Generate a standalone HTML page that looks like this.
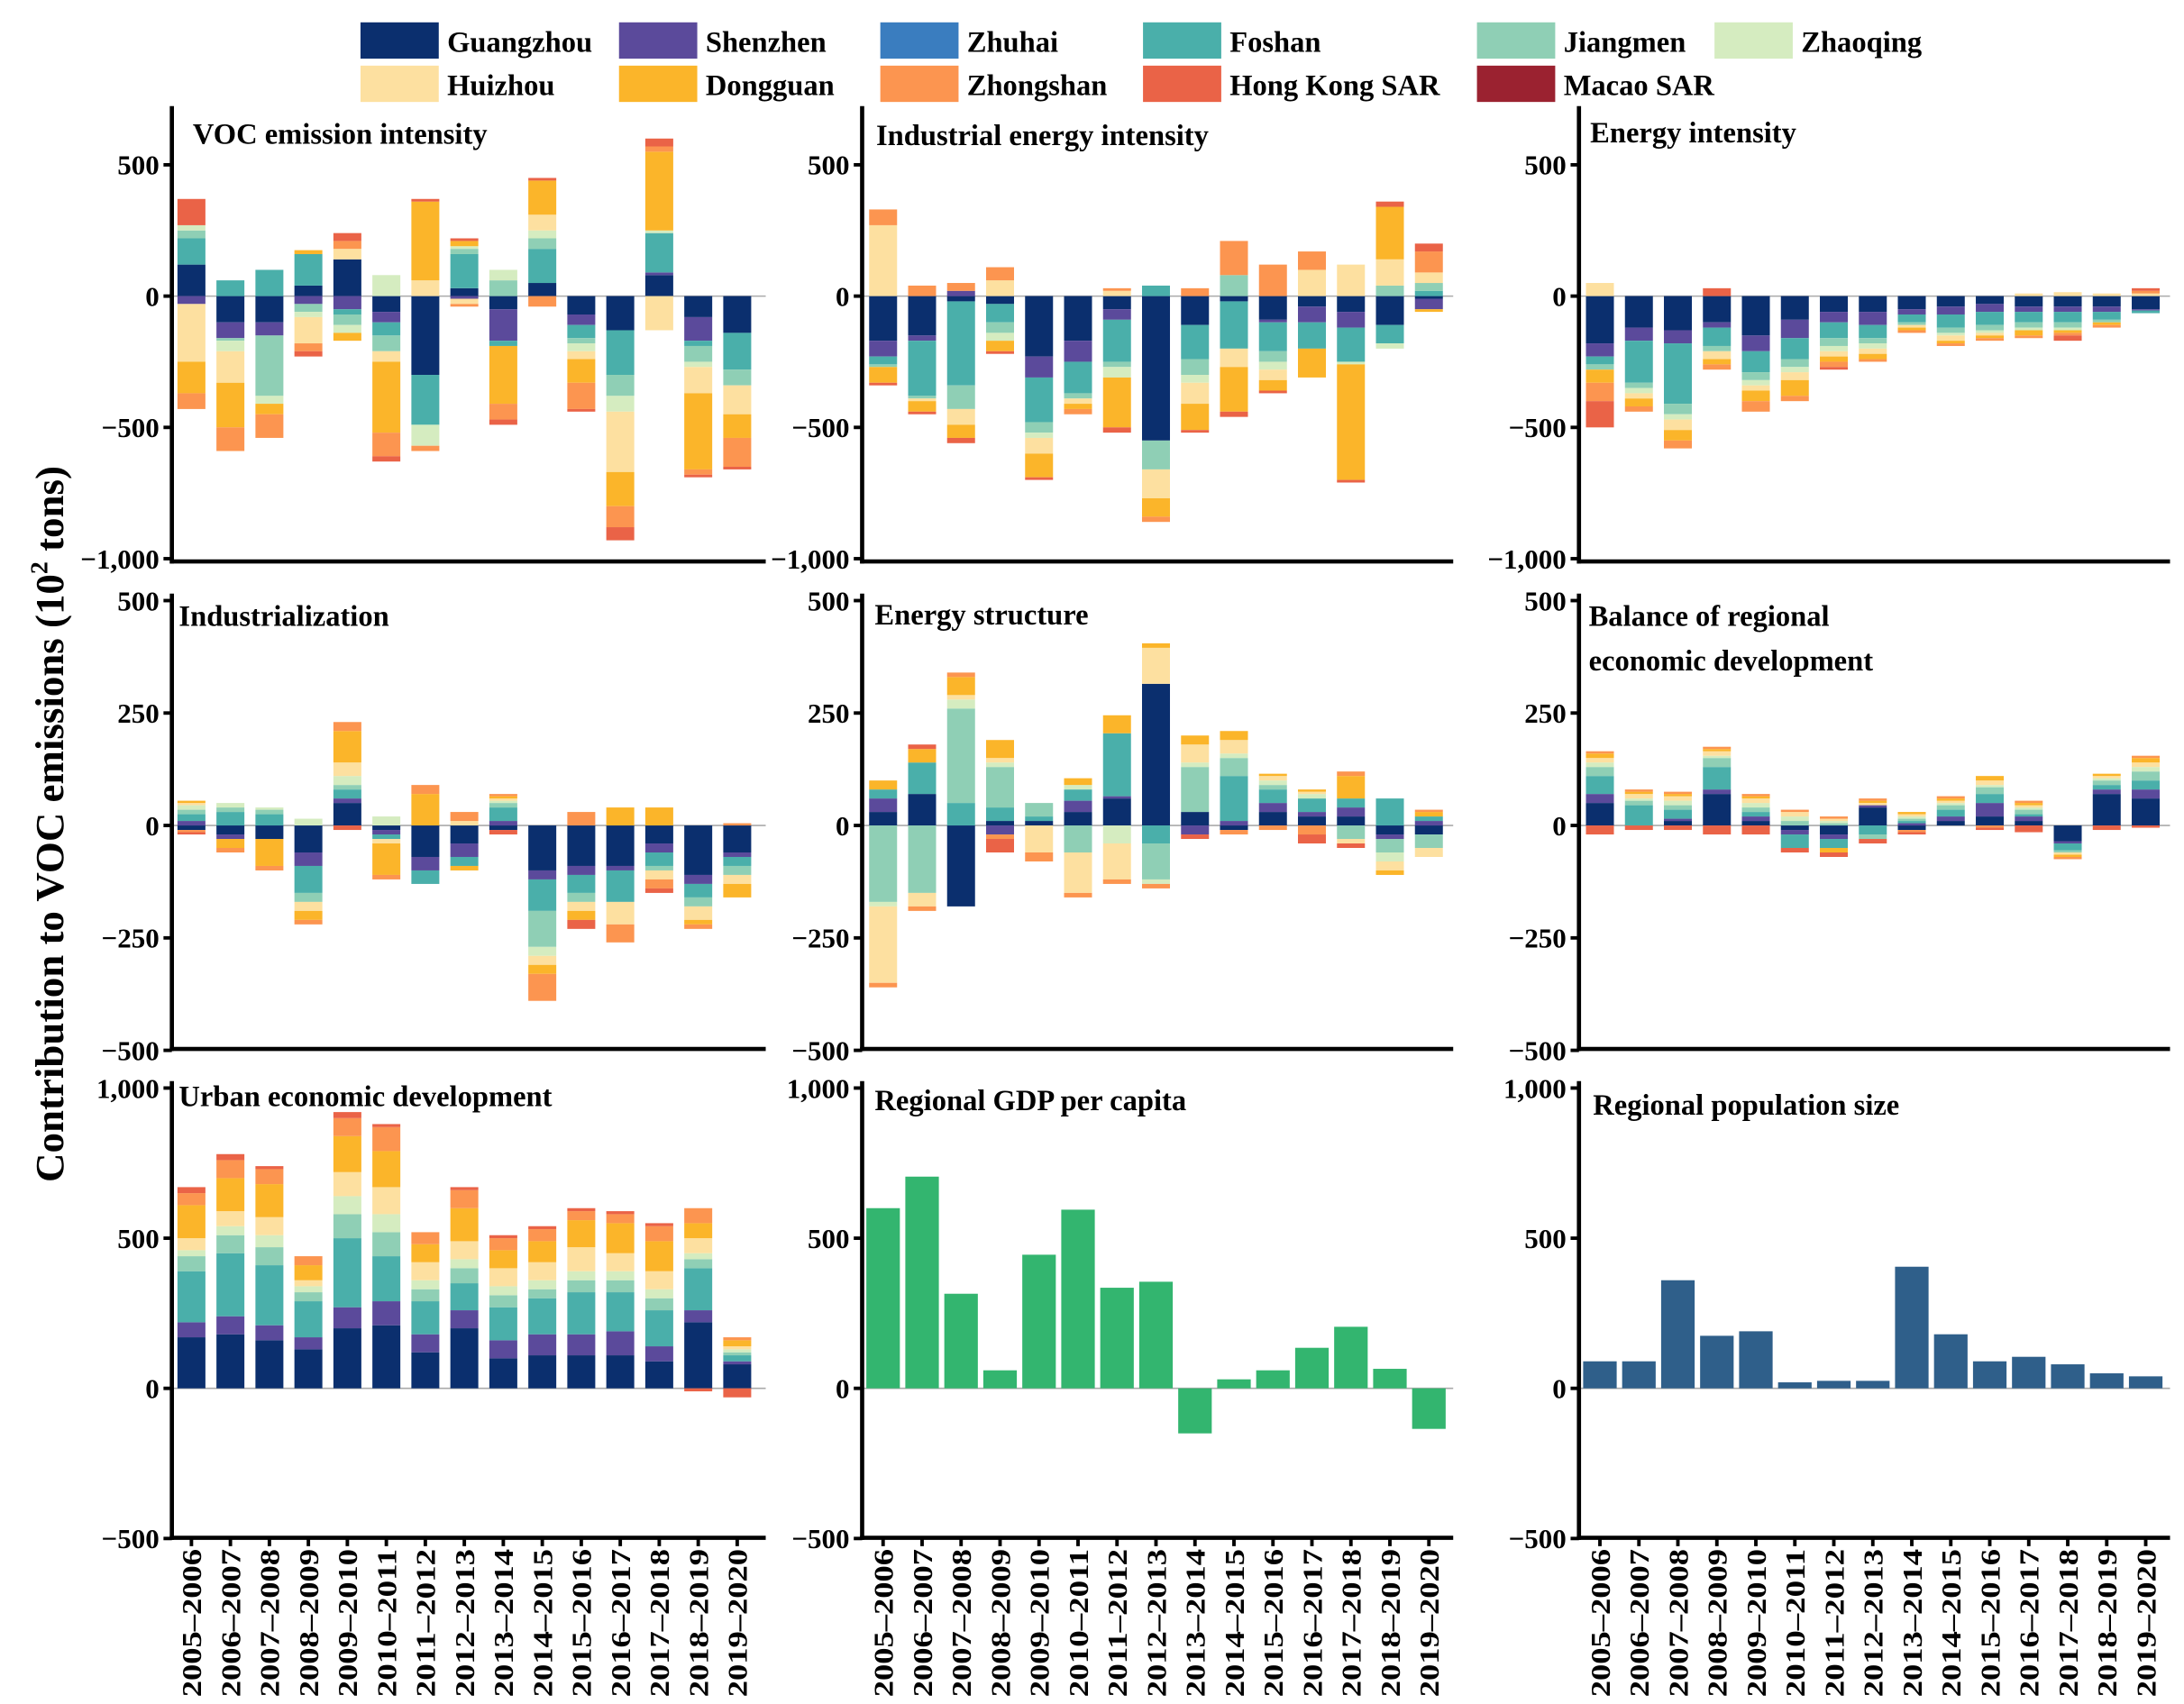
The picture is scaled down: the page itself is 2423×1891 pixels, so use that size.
<!DOCTYPE html>
<html><head><meta charset="utf-8"><style>
html,body{margin:0;padding:0;background:#fff;}
svg{display:block;font-family:"Liberation Serif",serif;font-weight:bold;}
</style></head><body>
<svg id="chart" width="2423" height="1891" viewBox="0 0 1563 1220" preserveAspectRatio="none" xmlns="http://www.w3.org/2000/svg">
<text transform="translate(45,590) rotate(-90)" text-anchor="middle" font-size="29">Contribution to VOC emissions (10<tspan font-size="18" dy="-11">2</tspan><tspan dy="11"> tons)</tspan></text>
</svg>
<script>
const periods=["2005–2006","2006–2007","2007–2008","2008–2009","2009–2010","2010–2011","2011–2012","2012–2013","2013–2014","2014–2015","2015–2016","2016–2017","2017–2018","2018–2019","2019–2020"];
const regions=["Guangzhou","Shenzhen","Zhuhai","Foshan","Jiangmen","Zhaoqing","Huizhou","Dongguan","Zhongshan","Hong Kong SAR","Macao SAR"];
const regionColors=["#0b2f6e","#5b4a9b","#3a7dbf","#4aafaa","#8fcfb5","#d5ecc0","#fde0a0","#fbb52a","#fc9550","#ea6347","#9b2230"];
// region order per bar: GZ,SZ,ZH,FS,JM,ZQ,HZ,DG,ZS,HK,MO
const vocIntensity=[
[120,-30,0,100,30,20,-220,-120,-60,100,0],[-100,-60,0,60,-10,-40,-120,-170,-90,0,0],[-100,-50,0,100,-230,-30,0,-40,-90,0,0],[40,-30,0,120,-30,-20,-100,15,-30,-20,0],[140,-50,0,-20,-40,-30,40,-30,30,30,0],
[-60,-40,0,-50,-60,80,-40,-270,-90,-20,0],[-300,0,0,-190,0,-80,60,300,-20,10,0],[30,-10,0,130,20,10,-20,20,-10,10,0],[-50,-120,0,-20,60,40,0,-220,-60,-20,0],[50,0,0,130,40,30,60,130,-40,10,0],
[-70,-40,0,-50,-20,-30,-30,-90,-100,-10,0],[-130,0,0,-170,-80,-60,-230,-130,-80,-50,0],[80,10,0,150,0,10,-130,300,20,30,0],[-80,-90,0,-20,-60,-20,-100,-290,-20,-10,0],[-140,0,0,-140,-60,0,-110,-90,-110,-10,0]];
const industrialEnergy=[
[-170,-60,0,-30,-10,0,270,-60,60,-10,0],[-150,-20,0,-210,-10,0,-10,-40,40,-10,0],[-20,20,0,-320,-90,0,-60,-50,30,-20,0],[-30,0,0,-70,-40,-30,60,-40,50,-10,0],[-230,-80,0,-170,-40,-20,-60,-90,0,-10,0],
[-170,-80,0,-120,-20,0,-20,-20,-20,0,0],[-50,-40,0,-160,-20,-40,20,-190,10,-20,0],[-550,0,0,40,-110,0,-110,-70,-20,0,0],[-110,0,0,-130,-60,-30,-80,-100,30,-10,0],[-20,0,0,-180,80,0,-70,-170,130,-20,0],
[-90,-10,0,-110,-40,-30,-40,-40,120,-10,0],[-40,-60,0,-100,0,0,100,-110,70,0,0],[-60,-60,0,-130,0,-10,120,-440,0,-10,0],[-110,0,0,-70,40,-20,100,200,0,20,0],[-10,-40,0,20,30,0,40,-10,80,30,0]];
const energyIntensity=[
[-180,-50,0,-30,-20,0,50,-50,-70,-100,0],[-120,-50,0,-160,-20,-20,-20,-30,-20,0,0],[-130,-50,0,-230,-40,-20,-40,-40,-30,0,0],[-100,-20,0,-70,-20,0,-30,-20,-20,30,0],[-150,-60,0,-80,-30,-20,-20,-40,-40,0,0],
[-90,-70,0,-80,-30,-20,-30,-60,-20,0,0],[-60,-40,0,-60,-30,-20,-20,-20,-20,-10,0],[-60,-50,0,-50,-20,-20,-20,-20,-10,0,0],[-50,-20,0,-30,-10,0,-10,-10,-10,0,0],[-40,-30,0,-50,-20,-10,-20,-10,-10,0,0],
[-30,-30,0,-50,-20,-10,-10,-10,-10,0,0],[-40,-20,0,-40,-20,-10,10,-20,-10,0,0],[-40,-20,0,-40,-20,-10,15,-10,-10,-20,0],[-40,-20,0,-30,-10,0,10,-10,-10,0,0],[-50,-5,0,-10,0,0,10,0,10,10,0]];
const industrialization=[
[-10,10,0,15,10,10,5,5,-5,-5,0],[-20,-10,0,30,10,10,0,-20,-10,0,0],[-30,0,0,25,10,5,0,-60,-10,0,0],[-60,-30,0,-60,-20,15,-20,-20,-10,0,0],[50,10,0,20,10,20,30,70,20,-10,0],
[-10,-10,0,-10,0,20,-10,-70,-10,0,0],[-70,-30,0,-30,0,0,0,70,20,0,0],[-40,-30,0,-20,0,0,10,-10,20,0,0],[-10,10,0,30,10,5,5,5,5,-10,0],[-100,-20,0,-70,-80,-20,-20,-20,-60,0,0],
[-90,-20,0,-40,-20,0,-20,-20,30,-20,0],[-90,-10,0,-70,0,0,-50,40,-40,0,0],[-40,-20,0,-30,-10,0,-20,40,-20,-10,0],[-110,-20,0,-30,-20,0,-30,-10,-10,0,0],[-60,-10,0,-20,-20,0,-20,-30,5,0,0]];
const energyStructure=[
[30,30,0,20,-170,-10,-170,20,-10,0,0],[70,0,0,70,-150,0,-30,30,-10,10,0],[-180,0,0,50,210,20,10,40,10,0,0],[10,-20,0,30,90,10,10,40,-10,-30,0],[10,0,0,10,30,0,-60,0,-20,0,0],
[30,25,0,25,-60,10,-90,15,-10,0,0],[60,5,0,140,0,-40,-80,40,-10,0,0],[315,0,0,-40,-80,-10,80,10,-10,0,0],[30,-20,0,0,100,10,40,20,0,-10,0],[-10,10,0,100,40,10,30,20,-10,0,0],
[30,20,0,30,10,10,10,5,-10,0,0],[20,10,0,30,0,10,5,5,-20,-20,0],[20,20,0,20,-30,0,-10,50,10,-10,0],[-20,-10,0,60,-30,-20,-20,-10,0,0,0],[-20,10,0,10,-30,0,-20,10,5,0,0]];
const regionalBalance=[
[50,20,0,40,20,10,10,10,5,-20,0],[0,0,0,45,10,5,10,5,5,-10,0],[10,5,0,20,10,10,10,5,5,-10,0],[70,10,0,50,20,5,10,5,5,-20,0],[10,10,0,10,10,10,10,5,5,-20,0],
[-10,-10,0,-30,10,10,10,0,5,-10,0],[-20,-10,0,-20,5,5,5,-10,5,-10,0],[40,5,0,-20,-10,0,5,5,5,-10,0],[-10,5,0,5,5,5,5,5,-5,-5,0],[10,10,0,15,10,5,5,5,5,0,0],
[20,30,0,20,15,5,10,10,-5,-5,0],[10,10,0,5,10,5,5,5,5,-15,0],[-35,-5,0,-15,-5,0,-5,-5,-5,0,0],[70,10,0,10,10,5,5,5,0,-10,0],[60,20,0,20,20,10,10,10,5,-5,0]];
const urbanEconomic=[
[170,50,0,170,50,20,40,110,40,20,0],[180,60,0,210,60,30,50,110,60,20,0],[160,50,0,200,60,40,60,110,50,10,0],[130,40,0,120,30,20,20,50,30,0,0],[200,70,0,230,80,60,80,120,60,20,0],
[210,80,0,150,80,60,90,120,80,10,0],[120,60,0,110,40,30,60,60,40,0,0],[200,60,0,90,50,30,60,110,60,10,0],[100,60,0,110,40,30,60,60,40,10,0],[110,70,0,120,30,30,60,70,40,10,0],
[110,70,0,140,40,30,80,90,30,10,0],[110,80,0,130,40,30,60,100,30,10,0],[90,50,0,120,40,30,60,100,50,10,0],[220,40,0,140,30,20,50,50,50,-10,0],[80,10,0,20,10,10,10,20,10,-30,0]];
const gdpPerCapita=[600,705,315,60,445,595,335,355,-150,30,60,135,205,65,-135];
const populationSize=[90,90,360,175,190,20,25,25,405,180,90,105,80,50,40];
const ticksRow1=[500,0,-500,-1000], labelsRow1=["500","0","−500","−1,000"];
const ticksRow2=[500,250,0,-250,-500], labelsRow2=["500","250","0","−250","−500"];
const ticksRow3=[1000,500,0,-500], labelsRow3=["1,000","500","0","−500"];

const NS="http://www.w3.org/2000/svg";
const svg=document.getElementById('chart');
function mk(tag,attrs,parent){const e=document.createElementNS(NS,tag);for(const k in attrs)e.setAttribute(k,attrs[k]);(parent||svg).appendChild(e);return e;}

const legX=[258,443,630,818,1057,1227];
regions.forEach((r,i)=>{
  const row=i<6?0:1, col=i<6?i:i-6;
  const x=legX[col], y=row===0?16:47;
  const g=mk('g',{});
  
  
  mk('rect',{x:x,y:y,width:56,height:26,fill:regionColors[i]},g);
  const t=mk('text',{x:x+62,y:y+21,'font-size':21},g);t.textContent=r;
});

const rows=[{zeroY:212,scale:94/500,top:76,bottom:402,ticks:ticksRow1,labels:labelsRow1},
            {zeroY:591,scale:80.5/250,top:425,bottom:751,ticks:ticksRow2,labels:labelsRow2},
            {zeroY:994,scale:107.5/500,top:774,bottom:1101,ticks:ticksRow3,labels:labelsRow3}];
const cols=[{ax:123,first:137,right:548},{ax:617,first:632,right:1040},{ax:1130,first:1145,right:1553}];
const step=27.9, bw=20;

function panel(name,title,rowI,colI,stackData,simpleData,simpleColor){
  const R=rows[rowI],C=cols[colI];
  const g=mk('g',{});
  
  
  const yS=v=>R.zeroY-v*R.scale;
  const xS=i=>C.first+i*step;
  mk('line',{x1:C.ax,x2:C.right,y1:R.zeroY,y2:R.zeroY,stroke:'#aaa','stroke-width':1},g);
  periods.forEach((p,i)=>{
    if(stackData){
      let pos=0,neg=0;
      stackData[i].forEach((v,k)=>{
        if(!v)return;
        let y0,y1;
        if(v>0){y0=pos;pos+=v;y1=pos;}else{y0=neg;neg+=v;y1=neg;}
        const r=mk('rect',{x:xS(i)-bw/2,y:Math.min(yS(y0),yS(y1)),width:bw,height:Math.abs(yS(y1)-yS(y0)),fill:regionColors[k]},g);
        
        
      });
    }else{
      const v=simpleData[i];
      const r=mk('rect',{x:xS(i)-12,y:Math.min(yS(0),yS(v)),width:24,height:Math.abs(yS(v)-yS(0)),fill:simpleColor},g);
      
      
    }
  });
  mk('line',{x1:C.ax,x2:C.ax,y1:R.top,y2:R.bottom+1.5,stroke:'#000','stroke-width':3},g);
  mk('line',{x1:C.ax-1.5,x2:C.right,y1:R.bottom,y2:R.bottom,stroke:'#000','stroke-width':3},g);
  R.ticks.forEach((t,j)=>{
    const y=yS(t);
    mk('line',{x1:C.ax-6,x2:C.ax,y1:y,y2:y,stroke:'#000','stroke-width':2.5},g);
    const tx=mk('text',{x:C.ax-9,y:y+7,'text-anchor':'end','font-size':20},g);
    
    
    tx.textContent=R.labels[j];
  });
  if(rowI===2){
    periods.forEach((p,i)=>{
      mk('line',{x1:xS(i),x2:xS(i),y1:R.bottom,y2:R.bottom+6,stroke:'#000','stroke-width':2.5},g);
      const tx=mk('text',{transform:`translate(${xS(i)+7},${R.bottom+8}) rotate(-90)`,'text-anchor':'end','font-size':20,textLength:106,lengthAdjust:'spacingAndGlyphs'},g);
      
      
      tx.textContent=p;
    });
  }
  title.forEach((line,j)=>{
    const tx=mk('text',{x:title.x,y:title.y+j*32,'font-size':21},g);
    
    
    tx.textContent=line;
  });
}
function T(lines,x,y){lines.x=x;lines.y=y;return lines;}
panel('voc-emission-intensity',T(["VOC emission intensity"],138,103),0,0,vocIntensity);
panel('industrial-energy-intensity',T(["Industrial energy intensity"],627,104),0,1,industrialEnergy);
panel('energy-intensity',T(["Energy intensity"],1138,102),0,2,energyIntensity);
panel('industrialization',T(["Industrialization"],128,448),1,0,industrialization);
panel('energy-structure',T(["Energy structure"],626,447),1,1,energyStructure);
panel('regional-balance',T(["Balance of regional","economic development"],1137,448),1,2,regionalBalance);
panel('urban-economic-development',T(["Urban economic development"],128,792),2,0,urbanEconomic);
panel('regional-gdp-per-capita',T(["Regional GDP per capita"],626,795),2,1,null,gdpPerCapita,'#33b56f');
panel('regional-population-size',T(["Regional population size"],1140,798),2,2,null,populationSize,'#2f5f8a');
</script>
</body></html>
